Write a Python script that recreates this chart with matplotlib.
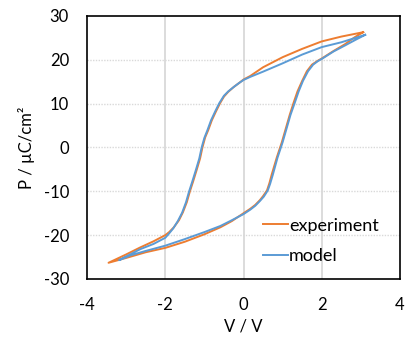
import matplotlib
matplotlib.use("Agg")
from matplotlib import pyplot as plt

plt.rcParams['font.family'] = ['Lato', 'DejaVu Sans']
plt.rcParams['axes.unicode_minus'] = False

# experiment: descending branch from the top-right tip, then ascending branch back
exp_v = [3.06, 2.5, 2.0, 1.5, 1.0, 0.5, 0.17, 0.0, -0.13, -0.25, -0.39, -0.5, -0.6, -0.7,
         -0.81, -0.9, -0.98, -1.05, -1.11, -1.2, -1.29, -1.37, -1.45, -1.55, -1.65, -1.78,
         -1.9, -2.0, -2.3, -2.64, -3.0, -3.45,
         -3.0, -2.5, -2.0, -1.5, -1.0, -0.59, -0.3, 0.0, 0.17, 0.3, 0.42, 0.5, 0.6, 0.66,
         0.72, 0.85, 0.98, 1.08, 1.18, 1.28, 1.38, 1.5, 1.62, 1.75, 1.9, 2.0, 2.3, 2.6, 2.85, 3.06]
exp_p = [26.3, 25.3, 24.2, 22.5, 20.6, 18.3, 16.3, 15.5, 14.6, 13.8, 12.7, 11.6, 10.1, 8.3,
         6.2, 4.0, 2.3, 0.0, -2.5, -5.2, -7.8, -10.0, -12.5, -14.8, -16.6, -18.2,
         -19.3, -20.0, -21.4, -22.8, -24.4, -26.3,
         -25.2, -23.9, -22.9, -21.5, -19.8, -18.2, -16.8, -15.0, -14.0, -13.1, -12.0, -11.1, -9.8, -8.2,
         -6.2, -2.3, 1.2, 4.3, 7.4, 10.2, 12.8, 15.2, 17.4, 18.9, 19.8, 20.3, 22.0, 23.6, 25.2, 26.3]

# model
mod_v = [3.11, 2.5, 2.0, 1.5, 1.0, 0.5, 0.17, 0.0, -0.13, -0.25, -0.39, -0.5, -0.62, -0.72,
         -0.83, -0.92, -1.0, -1.07, -1.13, -1.22, -1.31, -1.39, -1.47, -1.57, -1.68, -1.8,
         -1.92, -2.0, -2.3, -2.64, -2.9, -3.18,
         -2.89, -2.5, -2.0, -1.5, -1.0, -0.59, -0.3, 0.0, 0.17, 0.3, 0.42, 0.52, 0.62, 0.68,
         0.75, 0.87, 1.0, 1.1, 1.2, 1.31, 1.41, 1.52, 1.65, 1.78, 1.9, 2.0, 2.3, 2.6, 2.85, 3.11]
mod_p = [25.7, 24.0, 22.9, 21.2, 19.2, 17.3, 16.1, 15.4, 14.6, 13.8, 12.8, 11.8, 10.1, 8.3,
         6.2, 4.0, 2.2, 0.0, -2.5, -5.2, -7.8, -10.0, -12.5, -14.9, -16.8, -18.5,
         -19.8, -20.6, -22.0, -23.2, -24.4, -25.7,
         -24.6, -23.6, -22.4, -20.9, -19.3, -17.9, -16.6, -15.2, -14.2, -13.3, -12.2, -11.2, -9.8, -8.3,
         -6.2, -2.3, 1.2, 4.3, 7.4, 10.2, 12.8, 15.2, 17.4, 18.9, 19.7, 20.2, 21.9, 23.3, 24.5, 25.7]

fig = plt.figure(figsize=(4.13, 3.43), dpi=100)
ax = fig.add_axes([0.2107, 0.1866, 0.7578, 0.7668])

ax.plot(exp_v, exp_p, color="#ED7D31", lw=1.4, label="experiment", solid_joinstyle="round")
ax.plot(mod_v, mod_p, color="#5B9BD5", lw=1.4, label="model", solid_joinstyle="round")

ax.set_xlim(-4, 4)
ax.set_ylim(-30, 30)
ax.set_xticks([-4, -2, 0, 2, 4])
ax.set_yticks([-30, -20, -10, 0, 10, 20, 30])
for v in [-2, 0, 2]:
    ax.axvline(v, color="#D9D9D9", lw=1.3, zorder=0)
for p in [-20, -10, 0, 10, 20]:
    ax.axhline(p, color="#D9D9D9", lw=1.0, ls=(0, (1, 1)), zorder=0)

ax.tick_params(length=0, labelsize=12, pad=13)
for s in ax.spines.values():
    s.set_linewidth(1.2)
    s.set_color("black")

ax.set_xlabel("V / V", fontsize=12, labelpad=4)
ax.set_ylabel("P / µC/cm²", fontsize=12, labelpad=6)

ax.legend(loc="upper left", bbox_to_anchor=(0.562, 0.233), frameon=False, fontsize=13,
          borderaxespad=0, borderpad=0, handlelength=1.4, handletextpad=0.05, labelspacing=0.8)

fig.savefig("out.png", dpi=100)
